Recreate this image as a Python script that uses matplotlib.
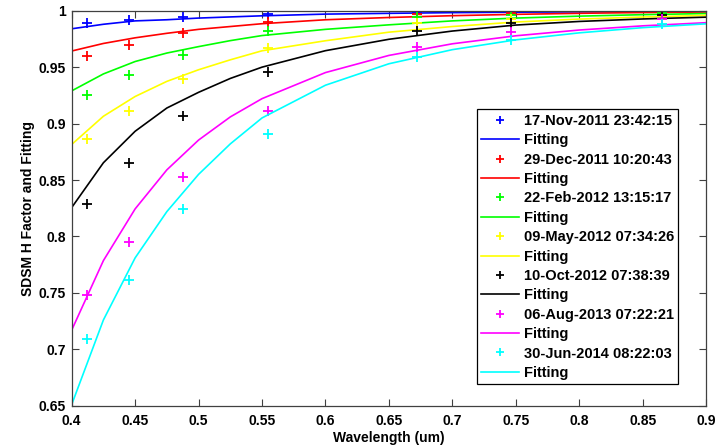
import matplotlib
matplotlib.use('Agg')
import matplotlib.pyplot as plt

plt.rcParams['font.family'] = ['Liberation Sans', 'DejaVu Sans']
plt.rcParams['font.weight'] = 'bold'

# measured SDSM H factor at band wavelengths
wavelength = [0.412, 0.445, 0.488, 0.555, 0.672, 0.746, 0.865]
h_nov2011 = [0.989, 0.992, 0.9945, 0.997, 0.998, 0.999, 0.999]
h_dec2011 = [0.960, 0.970, 0.980, 0.990, 0.997, 0.998, 0.998]
h_feb2012 = [0.925, 0.943, 0.961, 0.9816, 0.994, 0.996, 0.998]
h_may2012 = [0.886, 0.911, 0.9396, 0.967, 0.989, 0.993, 0.995]
h_oct2012 = [0.829, 0.865, 0.907, 0.946, 0.982, 0.989, 0.996]
h_aug2013 = [0.748, 0.795, 0.853, 0.911, 0.968, 0.981, 0.993]
h_jun2014 = [0.709, 0.761, 0.824, 0.891, 0.9586, 0.974, 0.988]

# fitted curves
fit_wl = [0.4, 0.425, 0.45, 0.475, 0.5, 0.525, 0.55, 0.6, 0.65, 0.7, 0.75, 0.8, 0.85, 0.9]
fit_nov2011 = [0.984, 0.988, 0.991, 0.992, 0.9935, 0.9945, 0.9955, 0.997, 0.9977, 0.9983, 0.9987, 0.999, 0.9992, 0.9994]
fit_dec2011 = [0.9643, 0.971, 0.976, 0.980, 0.9835, 0.986, 0.9885, 0.992, 0.994, 0.9956, 0.9968, 0.9977, 0.9984, 0.9989]
fit_feb2012 = [0.929, 0.944, 0.955, 0.9625, 0.9682, 0.9735, 0.978, 0.9835, 0.9875, 0.991, 0.9935, 0.9952, 0.9965, 0.9975]
fit_may2012 = [0.8815, 0.9065, 0.924, 0.9374, 0.9477, 0.9565, 0.9645, 0.9734, 0.981, 0.986, 0.990, 0.9926, 0.9944, 0.9959]
fit_oct2012 = [0.8256, 0.8653, 0.8932, 0.9138, 0.9277, 0.940, 0.950, 0.9646, 0.9747, 0.982, 0.9873, 0.9905, 0.9927, 0.9943]
fit_aug2013 = [0.717, 0.7786, 0.8244, 0.859, 0.8854, 0.9059, 0.9221, 0.9452, 0.9604, 0.9707, 0.9778, 0.9829, 0.9866, 0.9894]
fit_jun2014 = [0.651, 0.726, 0.781, 0.822, 0.855, 0.882, 0.905, 0.934, 0.953, 0.9655, 0.9742, 0.9804, 0.985, 0.9884]

dates = ['17-Nov-2011 23:42:15', '29-Dec-2011 10:20:43', '22-Feb-2012 13:15:17',
         '09-May-2012 07:34:26', '10-Oct-2012 07:38:39', '06-Aug-2013 07:22:21',
         '30-Jun-2014 08:22:03']
colors = ['#0000ff', '#ff0000', '#00ff00', '#ffff00', '#000000', '#ff00ff', '#00ffff']
measured = [h_nov2011, h_dec2011, h_feb2012, h_may2012, h_oct2012, h_aug2013, h_jun2014]
fitted = [fit_nov2011, fit_dec2011, fit_feb2012, fit_may2012, fit_oct2012, fit_aug2013, fit_jun2014]

fig = plt.figure(figsize=(7.22, 4.47), dpi=100)
ax = fig.add_axes([0.0993, 0.0924, 0.8787, 0.8836])

for date, c, h, f in zip(dates, colors, measured, fitted):
    ax.plot(wavelength, h, '+', color=c, markersize=7, markeredgewidth=1.3, label=date)
    ax.plot(fit_wl, f, '-', color=c, linewidth=1.2, label='Fitting')

ax.set_xlim(0.4, 0.9)
ax.set_ylim(0.65, 1.0)
ax.set_xticks([0.4, 0.45, 0.5, 0.55, 0.6, 0.65, 0.7, 0.75, 0.8, 0.85, 0.9])
ax.set_xticklabels(['0.4', '0.45', '0.5', '0.55', '0.6', '0.65', '0.7', '0.75', '0.8', '0.85', '0.9'])
ax.set_yticks([0.65, 0.7, 0.75, 0.8, 0.85, 0.9, 0.95, 1.0])
ax.set_yticklabels(['0.65', '0.7', '0.75', '0.8', '0.85', '0.9', '0.95', '1'])
ax.tick_params(direction='in', top=True, right=True, length=5, width=0.8,
               labelsize=10, colors='#404040', labelcolor='black')
ax.tick_params(axis='x', pad=6)
ax.tick_params(axis='y', pad=4)
for s in ax.spines.values():
    s.set_color('#404040')
    s.set_linewidth(0.9)

ax.set_xlabel('Wavelength (um)', fontsize=10, fontweight='bold', labelpad=2)
ax.set_ylabel('SDSM H Factor and Fitting', fontsize=10, fontweight='bold', labelpad=3)

leg = ax.legend(loc='upper left', bbox_to_anchor=(0.639, 0.75), borderaxespad=0,
                fancybox=False, edgecolor='black', framealpha=1,
                prop={'size': 10.5, 'weight': 'bold'}, handlelength=2.6,
                handletextpad=0.3, labelspacing=0.37, borderpad=0.3, markerscale=0.75)
leg.get_frame().set_linewidth(0.9)

plt.savefig('out.png', dpi=100)
plt.close(fig)
